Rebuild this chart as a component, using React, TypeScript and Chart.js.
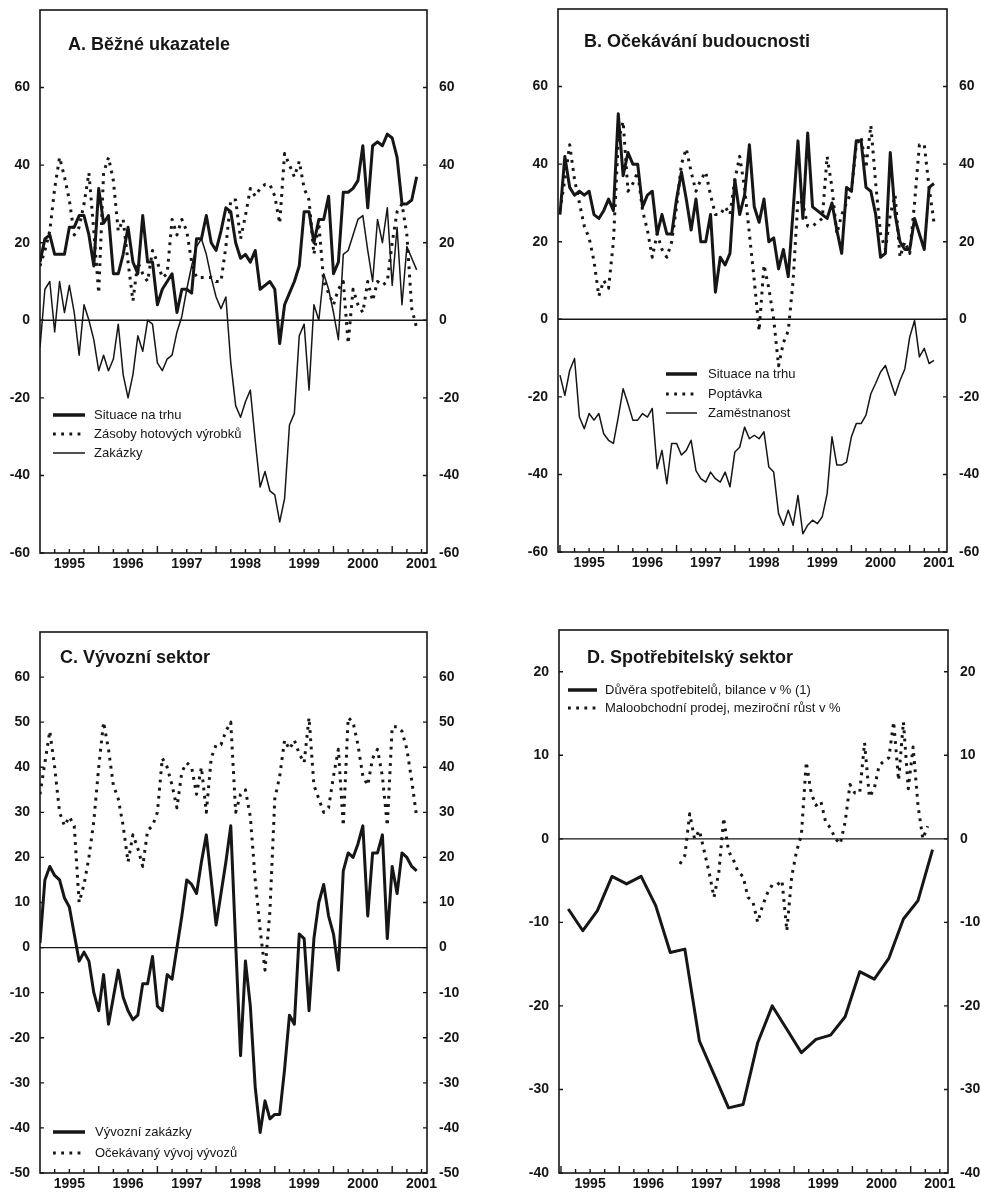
import React, { useEffect, useRef } from "react";
import { Chart, registerables } from "chart.js";

Chart.register(...registerables);

const FONT = '"Liberation Sans", Arial, Helvetica, sans-serif';
const INK = "#161616";

// Axis labels
const YEARS = [1995, 1996, 1997, 1998, 1999, 2000, 2001];
const TICKS_AB = [-60, -40, -20, 0, 20, 40, 60];
const TICKS_C = [-50, -40, -30, -20, -10, 0, 10, 20, 30, 40, 50, 60];
const TICKS_D = [-40, -30, -20, -10, 0, 10, 20];

// A. Běžné ukazatele — monthly balances from January 1995
const situaceA = [
  15, 21, 22, 17, 17, 17, 24, 24, 27, 27,
  22, 14, 34, 25, 27, 12, 12, 17, 24, 15,
  12, 27, 15, 15, 4, 8, 10, 12, 2, 8,
  8, 7, 21, 21, 27, 20, 18, 23, 29, 28,
  20, 16, 17, 15, 18, 8, 9, 10, 8, -6,
  4, 7, 10, 14, 28, 28, 20, 26, 26, 32,
  12, 15, 33, 33, 34, 36, 45, 29, 45, 46,
  45, 48, 47, 42, 30, 30, 31, 37,
];
const zasobyA = [
  14, 18, 23, 34, 42, 37, 31, 22, 24, 30,
  38, 23, 7, 38, 42, 36, 23, 26, 15, 5,
  15, 12, 10, 18, 15, 11, 12, 26, 22, 26,
  23, 15, 11, 11, 11, 11, 10, 10, 19, 31,
  31, 21, 27, 34, 32, 34, 35, 35, 32, 25,
  43, 40, 37, 41, 34, 31, 17, 25, 10, 7,
  4, 8, 10, -6, 8, 4, 2, 10, 5, 10,
  9, 10, 20, 28, 30, 22, 3, -2,
];
const zakazkyA = [
  -7, 8, 10, -3, 10, 2, 9, 2, -9, 4,
  0, -5, -13, -9, -13, -10, -1, -14, -20, -14,
  -4, -8, 0, -1, -11, -13, -10, -9, -3, 1,
  8, 14, 19, 21, 17, 11, 6, 3, 6, -11,
  -22, -25, -21, -18, -31, -43, -39, -44, -45, -52,
  -46, -27, -24, -4, -1, -18, 4, 0, 12, 8,
  2, -5, 17, 18, 22, 26, 27, 18, 10, 26,
  20, 29, 9, 24, 4, 19, 16, 13,
];

// B. Očekávání budoucnosti — monthly balances from January 1995
const situaceB = [
  27, 42, 34, 32, 33, 32, 33, 27, 26, 28,
  31, 28, 53, 37, 43, 40, 40, 29, 32, 33,
  22, 27, 22, 22, 31, 38, 31, 23, 31, 20,
  20, 27, 7, 16, 14, 17, 36, 27, 32, 45,
  29, 25, 31, 20, 21, 13, 18, 11, 28, 46,
  26, 48, 29, 28, 27, 26, 30, 23, 17, 34,
  33, 46, 46, 34, 33, 27, 16, 17, 43, 27,
  20, 18, 18, 26, 22, 18, 34, 35,
];
const poptavkaB = [
  28, 36, 45, 36, 30, 24, 21, 15, 6, 10,
  8, 20, 46, 51, 33, 35, 38, 28, 23, 16,
  22, 18, 16, 20, 29, 40, 44, 38, 33, 36,
  38, 32, 27, 27, 29, 27, 36, 42, 34, 22,
  10, -3, 14, 8, 0, -12, -6, -3, 10, 31,
  30, 24, 24, 25, 26, 42, 34, 22, 27, 30,
  33, 45, 47, 39, 50, 35, 22, 18, 27, 32,
  16, 20, 17, 30, 45, 45, 34, 25,
];
const zamestnanostB = [
  -14.4, -19.6, -13.2, -10.1, -25.2, -28.2, -24.3, -26, -24.3, -29.5,
  -31.2, -32, -25.2, -17.9, -21.8, -26, -26, -24.3, -25.2, -23,
  -38.5, -33.8, -42.4, -32, -32, -35, -33.8, -31.2, -39, -41.1,
  -42, -39.4, -41.1, -42, -39.4, -43.2, -34.2, -33, -27.8, -30.8,
  -29.9, -30.8, -29, -38.1, -39.4, -50.1, -53.1, -49.2, -53.1, -45.4,
  -55.3, -53.1, -51.8, -52.7, -50.9, -45, -30.3, -37.6, -37.6, -36.8,
  -30.3, -26.9, -26.9, -24.7, -19.2, -16.5, -13.6, -11.9, -15.8, -19.6,
  -15.8, -12.8, -4.6, -0.3, -9.7, -7.5, -11.4, -10.6,
];

// C. Vývozní sektor — monthly balances from January 1995
const vyvozniZakazky = [
  1, 15, 18, 16, 15, 11, 9, 3, -3, -1,
  -3, -10, -14, -6, -17, -11, -5, -11, -14, -16,
  -15, -8, -8, -2, -13, -14, -6, -7, 0, 7,
  15, 14, 12, 19, 25, 15, 5, 12, 19, 27,
  1, -24, -3, -13, -31, -41, -34, -38, -37, -37,
  -27, -15, -17, 3, 2, -14, 2, 10, 14, 7,
  3, -5, 17, 21, 20, 23, 27, 7, 21, 21,
  25, 2, 18, 12, 21, 20, 18, 17,
];
const ocekavanyVyvoz = [
  34, 41, 48, 40, 30, 27, 29, 27, 10, 14,
  20, 28, 40, 50, 44, 36, 33, 27, 19, 25,
  22, 18, 26, 27, 30, 42, 40, 36, 31, 39,
  41, 40, 34, 40, 30, 42, 45, 45, 48, 50,
  30, 34, 35, 29, 15, 4, -5, 8, 33, 38,
  46, 44, 46, 43, 41, 51, 36, 33, 30, 31,
  38, 44, 27, 51, 50, 45, 38, 36, 42, 44,
  38, 27, 49, 49, 48, 44, 37, 29,
];

// D. Spotřebitelský sektor
// consumer confidence: quarterly from 1995 Q1
const duveraSpotrebitelu = [
  -8.4, -11, -8.6, -4.5, -5.4, -4.5, -8, -13.6, -13.2, -24.2,
  -28.2, -32.2, -31.8, -24.4, -20, -22.8, -25.6, -24, -23.5, -21.3,
  -15.9, -16.8, -14.3, -9.6, -7.4, -1.3,
];
// retail sales y/y growth: monthly from January 1997
const maloobchodniProdej = [
  -3, -2, 3, 0, 1, -1.5, -4, -7, -4, 2.5,
  -1.5, -2.5, -4, -4.5, -7, -7.5, -10, -8, -6.5, -5.5,
  -5.5, -5, -11, -4.5, -1.5, 0.5, 9.2, 5.5, 4, 4.5,
  2, 1.3, 0, -0.6, 2, 6.5, 5.5, 5.5, 11.5, 5,
  6, 8.8, 9.3, 9.7, 14, 7, 14, 6, 11, 4,
  0, 1.5,
];

type Pt = { x: number; y: number };
type LineStyle = "thick" | "dotted" | "thin";

const monthly = (vals: number[], startYear: number, offset = 0): Pt[] =>
  vals.map((y, i) => ({ x: startYear + (i + offset) / 12, y }));
const quarterly = (vals: number[], startYear: number): Pt[] =>
  vals.map((y, i) => ({ x: startYear + i / 4 + 0.125, y }));

const STYLES: Record<LineStyle, { width: number; dash: number[] }> = {
  thick: { width: 3, dash: [] },
  dotted: { width: 3, dash: [2.8, 5.4] },
  thin: { width: 1.5, dash: [] },
};

interface Series {
  label: string;
  style: LineStyle;
  points: Pt[];
}

interface Panel {
  key: string;
  title: string;
  titleX: number;
  titleY: number;
  left: number;
  top: number;
  width: number;
  height: number;
  area: { l: number; t: number; r: number; b: number };
  xMin: number;
  xMax: number;
  yMin: number;
  yMax: number;
  yTicks: number[];
  series: Series[];
  legend: { x0: number; x1: number; tx: number; rows: number[] };
}

const PANELS: Panel[] = [
  {
    key: "A",
    title: "A. Běžné ukazatele",
    titleX: 68,
    titleY: 45,
    left: 0,
    top: 0,
    width: 490,
    height: 600,
    area: { l: 40, t: 10, r: 427, b: 553 },
    xMin: 1995,
    xMax: 2001.593,
    yMin: -60,
    yMax: 80,
    yTicks: TICKS_AB,
    series: [
      { label: "Situace na trhu", style: "thick", points: monthly(situaceA, 1995) },
      { label: "Zásoby hotových výrobků", style: "dotted", points: monthly(zasobyA, 1995) },
      { label: "Zakázky", style: "thin", points: monthly(zakazkyA, 1995) },
    ],
    legend: { x0: 53, x1: 85, tx: 94, rows: [415, 434, 453] },
  },
  {
    key: "B",
    title: "B. Očekávání budoucnosti",
    titleX: 94,
    titleY: 42,
    left: 490,
    top: 0,
    width: 491,
    height: 600,
    area: { l: 68, t: 9, r: 457, b: 552 },
    xMin: 1994.966,
    xMax: 2001.64,
    yMin: -60,
    yMax: 80,
    yTicks: TICKS_AB,
    series: [
      { label: "Situace na trhu", style: "thick", points: monthly(situaceB, 1995) },
      { label: "Poptávka", style: "dotted", points: monthly(poptavkaB, 1995) },
      { label: "Zaměstnanost", style: "thin", points: monthly(zamestnanostB, 1995) },
    ],
    legend: { x0: 176, x1: 207, tx: 218, rows: [374, 394, 413] },
  },
  {
    key: "C",
    title: "C. Vývozní sektor",
    titleX: 60,
    titleY: 58,
    left: 0,
    top: 600,
    width: 490,
    height: 592,
    area: { l: 40, t: 32, r: 427, b: 573 },
    xMin: 1995,
    xMax: 2001.593,
    yMin: -50,
    yMax: 70,
    yTicks: TICKS_C,
    series: [
      { label: "Vývozní zakázky", style: "thick", points: monthly(vyvozniZakazky, 1995) },
      { label: "Očekávaný vývoj vývozů", style: "dotted", points: monthly(ocekavanyVyvoz, 1995) },
    ],
    legend: { x0: 53, x1: 85, tx: 95, rows: [532, 553] },
  },
  {
    key: "D",
    title: "D. Spotřebitelský sektor",
    titleX: 97,
    titleY: 58,
    left: 490,
    top: 600,
    width: 491,
    height: 592,
    area: { l: 69, t: 30, r: 458, b: 573 },
    xMin: 1994.966,
    xMax: 2001.64,
    yMin: -40,
    yMax: 25,
    yTicks: TICKS_D,
    series: [
      { label: "Důvěra spotřebitelů, bilance v % (1)", style: "thick", points: quarterly(duveraSpotrebitelu, 1995) },
      { label: "Maloobchodní prodej, meziroční růst v %", style: "dotted", points: monthly(maloobchodniProdej, 1997, 0.5) },
    ],
    legend: { x0: 78, x1: 107, tx: 115, rows: [90, 108] },
  },
];

// Frame, zero line, quarterly ticks, heading and legend drawn around the scales
function decorPlugin(panel: Panel) {
  return {
    id: "panelDecor",
    beforeDatasetsDraw(chart: any) {
      const { ctx, chartArea: a } = chart;
      const y0 = chart.scales.y.getPixelForValue(0);
      ctx.save();
      ctx.strokeStyle = INK;
      ctx.lineWidth = 1.4;
      ctx.beginPath();
      ctx.moveTo(a.left, y0);
      ctx.lineTo(a.right, y0);
      ctx.stroke();
      ctx.restore();
    },
    afterDraw(chart: any) {
      const { ctx, chartArea: a } = chart;
      const xs = chart.scales.x;
      const ys = chart.scales.y;
      ctx.save();
      ctx.strokeStyle = INK;
      ctx.lineWidth = 1.6;
      ctx.strokeRect(a.left, a.top, a.right - a.left, a.bottom - a.top);

      ctx.lineWidth = 1.4;
      ctx.beginPath();
      for (let q = Math.ceil(panel.xMin * 4); q <= Math.floor(panel.xMax * 4); q++) {
        const px = xs.getPixelForValue(q / 4);
        if (px <= a.left + 1.5 || px >= a.right - 1.5) continue;
        const len = q % 4 === 0 ? 7 : 4;
        ctx.moveTo(px, a.bottom);
        ctx.lineTo(px, a.bottom - len);
      }
      for (const v of panel.yTicks) {
        const py = ys.getPixelForValue(v);
        ctx.moveTo(a.left, py);
        ctx.lineTo(a.left + 4, py);
        ctx.moveTo(a.right, py);
        ctx.lineTo(a.right - 4, py);
      }
      ctx.stroke();

      ctx.fillStyle = INK;
      ctx.textAlign = "left";
      ctx.textBaseline = "middle";
      ctx.font = `bold 18px ${FONT}`;
      ctx.fillText(panel.title, panel.titleX, panel.titleY);

      const lg = panel.legend;
      ctx.font = `13px ${FONT}`;
      panel.series.forEach((s, i) => {
        const y = lg.rows[i];
        const st = STYLES[s.style];
        ctx.beginPath();
        ctx.lineWidth = s.style === "thick" ? 3.5 : st.width;
        ctx.setLineDash(st.dash);
        ctx.lineCap = "butt";
        ctx.moveTo(lg.x0, y);
        ctx.lineTo(lg.x1, y);
        ctx.stroke();
        ctx.setLineDash([]);
        ctx.fillText(s.label, lg.tx, y + 0.5);
      });
      ctx.restore();
    },
  };
}

function buildConfig(panel: Panel): any {
  const tickFont = { family: FONT, size: 14, weight: "bold" as const };
  const fixPadding = (s: any) => {
    s.paddingTop = 0;
    s.paddingBottom = 0;
    s.paddingLeft = 0;
    s.paddingRight = 0;
  };
  const yAxis = (position: "left" | "right", width: number, padding: number) => ({
    type: "linear",
    position,
    min: panel.yMin,
    max: panel.yMax,
    afterBuildTicks: (s: any) => {
      s.ticks = panel.yTicks.map((v) => ({ value: v }));
    },
    ticks: { font: tickFont, color: INK, padding, autoSkip: false },
    grid: { display: false, drawTicks: false },
    border: { display: false },
    afterFit: (s: any) => {
      s.width = width;
      fixPadding(s);
    },
  });

  return {
    type: "line",
    data: {
      datasets: panel.series.map((s) => ({
        label: s.label,
        data: s.points,
        xAxisID: "x",
        yAxisID: "y",
        borderColor: INK,
        backgroundColor: INK,
        borderWidth: STYLES[s.style].width,
        borderDash: STYLES[s.style].dash,
        borderCapStyle: "butt",
        borderJoinStyle: "round",
        pointRadius: 0,
        pointHoverRadius: 0,
        tension: 0,
        fill: false,
      })),
    },
    options: {
      responsive: false,
      animation: false,
      devicePixelRatio: 1,
      events: [],
      layout: { padding: { top: panel.area.t, left: 0, right: 0, bottom: 0 } },
      plugins: { legend: { display: false }, tooltip: { enabled: false } },
      scales: {
        x: {
          type: "linear",
          position: "bottom",
          min: panel.xMin,
          max: panel.xMax,
          afterBuildTicks: (s: any) => {
            s.ticks = YEARS.map((y) => ({ value: y + 0.5 }));
          },
          ticks: {
            font: tickFont,
            color: INK,
            padding: 3,
            autoSkip: false,
            maxRotation: 0,
            callback: (v: any) => String(Math.floor(Number(v))),
          },
          grid: { display: false, drawTicks: false },
          border: { display: false },
          afterFit: (s: any) => {
            s.height = panel.height - panel.area.b;
            fixPadding(s);
          },
        },
        y: yAxis("left", panel.area.l, 10),
        y2: yAxis("right", panel.width - panel.area.r, 12),
      },
    },
    plugins: [decorPlugin(panel)],
  };
}

function PanelChart({ panel }: { panel: Panel }) {
  const ref = useRef<HTMLCanvasElement | null>(null);
  useEffect(() => {
    if (!ref.current) return;
    const chart = new Chart(ref.current, buildConfig(panel));
    return () => chart.destroy();
  }, [panel]);
  return (
    <canvas
      ref={ref}
      width={panel.width}
      height={panel.height}
      style={{
        position: "absolute",
        left: panel.left,
        top: panel.top,
        width: panel.width,
        height: panel.height,
      }}
    />
  );
}

export default function App() {
  return (
    <div
      style={{
        position: "absolute",
        left: 0,
        top: 0,
        width: 981,
        height: 1192,
        background: "#ffffff",
        overflow: "hidden",
      }}
    >
      {PANELS.map((p) => (
        <PanelChart key={p.key} panel={p} />
      ))}
    </div>
  );
}
